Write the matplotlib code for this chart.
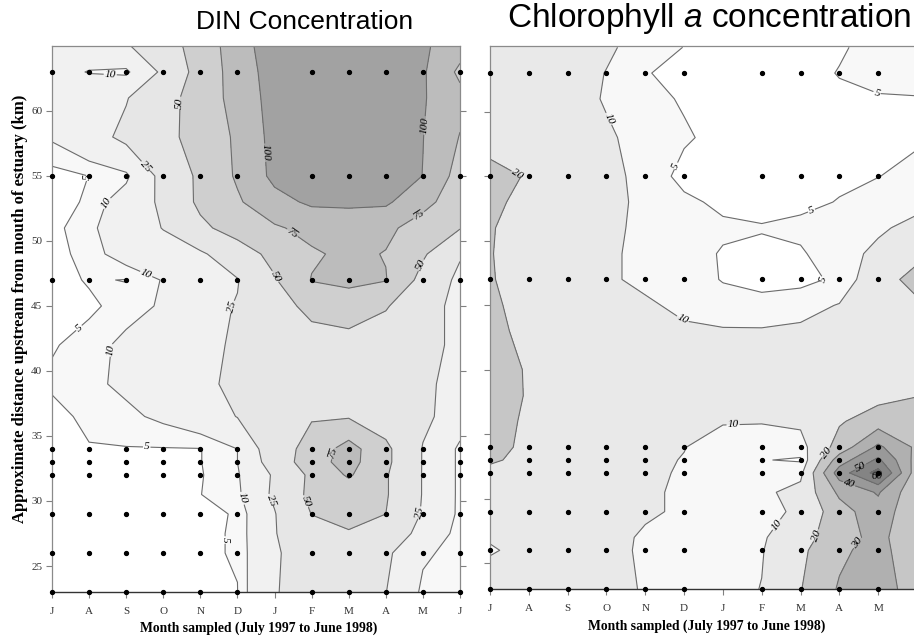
import matplotlib
matplotlib.use('Agg')
matplotlib.rc('font', **{'family': 'Liberation Serif', 'size': 8})
matplotlib.rcParams['mathtext.fontset'] = 'custom'
matplotlib.rcParams['mathtext.rm'] = 'Liberation Sans'
matplotlib.rcParams['mathtext.it'] = 'Liberation Sans:italic'
import matplotlib.pyplot as plt
import numpy as np

##############################################################################
# Data
##############################################################################
months = ['J', 'A', 'S', 'O', 'N', 'D', 'J', 'F', 'M', 'A', 'M', 'J']
month_pos = list(range(12))

# sampling stations actually visited (month index, km)
sample_months = [0, 1, 2, 3, 4, 5, 7, 8, 9, 10, 11]
sample_km = [23, 26, 29, 32, 33, 34, 47, 55, 63]

# DIN concentration, rows = km, columns = month
din_km = [23, 26, 27.5, 29, 30.5, 32, 33, 34, 36.5, 39, 42, 45, 47, 49, 51, 53, 55, 58, 61, 63, 65]
din = [
    [4, 4, 4.1, 4.2, 4.5, 4.9, 24, 32, 34, 25.3, 8, 6],
    [4, 4, 4.1, 4.2, 4.4, 5.3, 23, 34, 38, 28, 11.5, 7],
    [4, 4, 4.1, 4.2, 4.4, 5.3, 24, 40, 48, 40, 18, 7],
    [4, 4, 4.1, 4.2, 4.4, 5.2, 24, 50.5, 58, 50, 23, 8],
    [4, 4.1, 4.2, 4.3, 4.9, 8, 28, 56, 60, 52, 24, 8],
    [4.3, 4.4, 4.5, 4.6, 4.6, 9, 27, 55, 78, 52, 24, 8],
    [4.5, 4.6, 4.6, 4.7, 4.8, 10, 33, 65, 84, 55, 24, 8],
    [4.5, 4.6, 4.7, 4.7, 4.8, 10, 36, 60, 85, 55, 24, 8],
    [3, 6.5, 8.5, 11.5, 16, 25.5, 35, 48, 48, 38, 29, 16],
    [6, 8.5, 11.5, 16, 22, 28, 33, 37, 38, 35, 29, 18],
    [4.5, 7, 12, 16, 21, 27, 34, 38, 40, 36, 32, 20],
    [2.5, 4, 7, 11, 19, 26, 38, 58, 64, 52, 32, 20],
    [3, 5.5, 4.8, 10.5, 16, 24, 48, 76, 80, 76, 42, 20],
    [3, 7, 14, 19, 22, 38, 57, 72, 80, 74, 53, 27],
    [3.5, 8, 17, 25.5, 45, 60, 72, 82, 84, 80, 65, 51],
    [3, 5.7, 15, 28, 55, 72, 92, 104, 105, 104, 82, 62],
    [3, 5.05, 8, 30, 55, 78, 106, 120, 122, 120, 99.5, 65],
    [11, 18, 29, 44, 58, 79, 108, 122, 125, 122, 100.5, 74],
    [14, 18, 24, 40, 62, 83, 110, 125, 125, 125, 102, 82],
    [14, 9.5, 8, 28, 60, 85, 112, 125, 125, 125, 103, 70],
    [14, 17, 23, 39, 60, 88, 115, 125, 125, 125, 104, 85],
]
din_levels = [5, 10, 25, 50, 75, 100]

# Chlorophyll a concentration
chl_km = [23, 26, 27, 29, 30.5, 32, 33, 34, 36, 38, 40, 43, 45, 47, 49, 51, 53, 55, 58, 61, 63, 65]
chl = [
    [16, 16, 14.5, 12, 9.5, 7, 7.5, 10.2, 19.6, 31, 38, 22],
    [9, 13, 14, 12, 9, 7, 7, 9.5, 18, 28, 34, 22],
    [11, 17, 15, 12.5, 9, 7, 7, 9, 16, 26, 33, 22],
    [19, 17.5, 15.5, 13, 11, 9, 8, 7.5, 11.5, 26, 36, 22],
    [19, 17.5, 15.5, 13, 11, 9, 8, 8.5, 12.5, 32, 41, 22],
    [19, 18, 16, 13.5, 11, 9.5, 7, 6, 8, 45, 64, 24],
    [20.5, 19, 16, 13.5, 11.5, 9.7, 6.5, 5.2, 4.5, 35, 52, 26],
    [21.5, 19, 16, 13.5, 11, 10.2, 7, 5.5, 7, 24, 42, 28],
    [22, 19.2, 15.5, 13.5, 12, 11, 10.5, 10.5, 11.5, 19, 25, 27],
    [23, 19.5, 16, 14.5, 13.5, 13, 12.5, 12.5, 13, 15, 17, 19.6],
    [23, 19.4, 15.5, 14, 13, 12.5, 12, 12, 12.5, 14, 16, 18],
    [22, 18, 15, 13.5, 12, 11, 10.5, 10.5, 11, 13, 15, 17],
    [21, 18, 15, 13, 11, 8.5, 7, 6.5, 8, 10.3, 15, 18],
    [20.5, 17, 14, 11, 8.5, 7.5, 4.7, 3.5, 3.5, 6, 15, 24],
    [20.3, 17, 14, 11, 8.5, 7, 4.6, 4, 4.5, 7.5, 11.5, 17],
    [20.5, 17, 14, 11.5, 8.5, 7, 5.8, 5.3, 6, 7.5, 9, 12],
    [21.5, 18, 15, 12, 8.5, 6, 4, 3.5, 4, 5.2, 7, 8],
    [24, 19, 15, 12, 8, 3.5, 3, 3, 3.5, 4.2, 4.9, 6.5],
    [15, 14, 13, 10.8, 8, 5.6, 3.5, 3, 3, 3.5, 4, 4.3],
    [15, 14, 12.5, 9.5, 6.5, 4.5, 3, 3, 3.2, 4.2, 4.6, 4.8],
    [15, 14, 13, 9.8, 5.3, 3.5, 3, 3, 3.5, 5.2, 6.5, 6.5],
    [15, 14, 13, 11, 7.5, 4.9, 3, 3, 3.5, 4.5, 6.5, 7],
]
chl_levels = [5, 10, 20, 30, 40, 50, 60]

# where the contour labels sit (month, km)
din_label_pos = [(1.56, 62.2), (3.58, 60.6), (2.7, 56.2), (1.37, 54.5), (1.5, 52.9),
                 (2.5, 47.2), (4.93, 44.9), (5.82, 56.8), (9.99, 58.9), (6.5, 50.7),
                 (9.97, 51.6), (6.2, 47.5), (10.05, 48.0), (0.7, 43.4), (1.6, 41.6),
                 (2.56, 34.7), (5.0, 30.1), (4.93, 27.0), (5.93, 30.1), (7.57, 33.7),
                 (6.95, 30.1), (9.86, 29.1)]
chl_label_pos = [(3.02, 59.4), (0.7, 55.2), (4.72, 55.9), (9.92, 61.1), (8.3, 52.2),
                 (8.69, 47.1), (5.03, 44.2), (6.26, 35.9), (8.56, 33.8), (7.47, 27.8),
                 (8.58, 27.0), (9.36, 26.8), (9.28, 31.4), (9.54, 32.5), (9.97, 31.7)]

din_colors = ['#ffffff', '#f8f8f8', '#f1f1f1', '#e6e6e6', '#cfcfcf', '#bcbcbc', '#a2a2a2']
chl_colors = ['#ffffff', '#f8f8f8', '#e9e9e9', '#c6c6c6', '#b0b0b0', '#999999', '#848484', '#6a6a6a']

##############################################################################
# Figure
##############################################################################
fig = plt.figure(figsize=(9.14, 6.36), dpi=100)
ax1 = fig.add_axes([52/914, 44/636, 408/914, 546/636])
ax2 = fig.add_axes([490/914, 47/636, 427/914, 543/636])

sx, sy = np.meshgrid(sample_months, sample_km)


def panel(ax, km, z, levels, colors, label_pos, ytop):
    lev = [0] + levels + [1000]
    ax.contourf(month_pos, km, z, levels=lev, colors=colors)
    cs = ax.contour(month_pos, km, z, levels=levels, colors='#6c6c6c', linewidths=0.8)
    labs = ax.clabel(cs, fmt='%d', fontsize=8, colors='k', inline=True,
                     inline_spacing=1, manual=label_pos)
    for t in labs:
        t.set_fontfamily('Liberation Serif')
        t.set_fontstyle('italic')
    ax.plot(sx.ravel(), sy.ravel(), 'o', ms=2.8, color='k', clip_on=False, zorder=5)
    ax.set_xlim(0, 11)
    ax.set_ylim(23, ytop)
    ax.set_xticks(month_pos)
    ax.set_xticklabels(months, fontsize=8, color='#333333')
    ax.set_yticks(range(25, 61, 5))
    ax.tick_params(direction='out', length=4, color='#808080', width=0.8, pad=7)
    for s in ['top', 'left', 'right']:
        ax.spines[s].set_color('#8a8a8a')
        ax.spines[s].set_linewidth(0.9)
    ax.spines['bottom'].set_color('#333333')
    ax.spines['bottom'].set_linewidth(1.0)


panel(ax1, din_km, din, din_levels, din_colors, din_label_pos, 65)
ax1.tick_params(axis='y', right=True, labelsize=8, labelcolor='#333333', pad=3)

panel(ax2, chl_km, chl, chl_levels, chl_colors, chl_label_pos, 65.1)
ax2.set_yticklabels([])
# last month sits beyond the figure edge on this panel
ax2.set_xticklabels(months[:11] + [''])

fig.text(305/914, 1 - 22/636, 'DIN Concentration', ha='center', va='center',
         fontsize=19, family='Liberation Sans')
fig.text(709/914, 1 - 18/636, 'Chlorophyll $a$ concentration', ha='center', va='center',
         fontsize=24, family='Liberation Sans')
fig.text(20/914, 1 - 309/636, 'Approximate distance upstream from mouth of estuary (km)',
         rotation=90, ha='center', va='center', fontsize=12, fontweight='bold')
fig.text(259/914, 1 - 628/636, 'Month sampled (July 1997 to June 1998)',
         ha='center', va='center', fontsize=9.8, fontweight='bold')
fig.text(707/914, 1 - 626/636, 'Month sampled (July 1997 to June 1998)',
         ha='center', va='center', fontsize=9.8, fontweight='bold')

plt.savefig('out.png', dpi=100)
